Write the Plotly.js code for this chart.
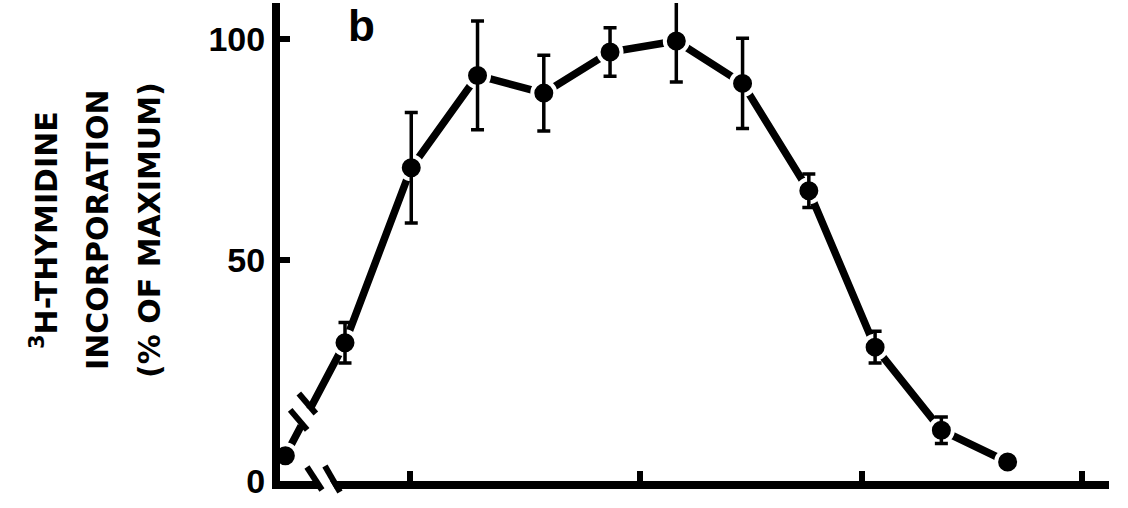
<!DOCTYPE html>
<html>
<head>
<meta charset="utf-8">
<script src="https://cdn.plot.ly/plotly-3.0.1.min.js"></script>
<style>html,body{margin:0;padding:0;background:#fff;}#chart{width:1128px;height:508px;}</style>
</head>
<body>
<div id="chart"></div>
<script>
// ---- data ----
const dose = [1.1, 2, 3, 4, 5, 6, 7, 8, 9, 10, 11, 12];
const incorporation = [5.7, 31.3, 70.9, 91.8, 87.8, 97.1, 99.6, 90.0, 65.7, 30.3, 11.5, 4.3];
const sem = [0, 4.6, 12.5, 12.3, 8.6, 5.5, 9.3, 10.2, 3.8, 3.6, 3.0, 0];
const xTickVals = [2.98, 6.45, 9.8, 13.12];
const yTickVals = [0, 50, 100];
const yTickText = ['0', '50', '100'];
const titleLines = ['<sup>3</sup>H-THYMIDINE', 'INCORPORATION', '(% OF MAXIMUM)'];
const panelLabel = 'b';

// ---- break marks ----
function lerp(a, b, t) { return a + (b - a) * t; }
const breakT = [0.265, 0.41];
const bp = breakT.map(t => ({x: lerp(dose[0], dose[1], t), y: lerp(incorporation[0], incorporation[1], t)}));
const shapes = [];
// white gap on the data line
shapes.push({type: 'line', xref: 'x', yref: 'y', x0: bp[0].x, y0: bp[0].y, x1: bp[1].x, y1: bp[1].y,
  line: {color: 'white', width: 12}, layer: 'above'});
bp.forEach(p => {
  shapes.push({type: 'line', xref: 'x', yref: 'y', xsizemode: 'pixel', ysizemode: 'pixel',
    xanchor: p.x, yanchor: p.y, x0: -11, y0: 16, x1: 6, y1: -4,
    line: {color: 'black', width: 6}, layer: 'above'});
});
// x-axis break
const axisBreakX = 1.72;
shapes.push({type: 'line', xref: 'x', yref: 'paper', xsizemode: 'pixel', ysizemode: 'pixel',
  xanchor: axisBreakX, yanchor: 0, x0: -10.5, y0: 14, x1: 4.5, y1: -11,
  line: {color: 'white', width: 10}, layer: 'above'});
shapes.push({type: 'line', xref: 'x', yref: 'paper', xsizemode: 'pixel', ysizemode: 'pixel',
  xanchor: axisBreakX, yanchor: 0, x0: -19.5, y0: 14, x1: -4.5, y1: -9,
  line: {color: 'black', width: 6}, layer: 'above'});
shapes.push({type: 'line', xref: 'x', yref: 'paper', xsizemode: 'pixel', ysizemode: 'pixel',
  xanchor: axisBreakX, yanchor: 0, x0: -1.5, y0: 15, x1: 13.5, y1: -11,
  line: {color: 'black', width: 6}, layer: 'above'});

const traces = [
  {x: dose, y: incorporation, type: 'scatter', mode: 'lines+markers', cliponaxis: false,
   line: {color: 'black', width: 7.5},
   marker: {color: 'black', size: 23, line: {color: 'white', width: 4}},
   hoverinfo: 'skip', showlegend: false},
  {x: dose, y: incorporation, type: 'scatter', mode: 'markers', cliponaxis: false,
   marker: {color: 'rgba(0,0,0,0)', size: 1},
   error_y: {type: 'data', array: sem, visible: true, color: 'black', thickness: 3.5, width: 6.5},
   hoverinfo: 'skip', showlegend: false}
];

const titleFont = {family: 'DejaVu Sans', size: 30, color: 'black', weight: 'bold'};
const titleShifts = [-236, -183, -131];
const annotations = titleLines.map((t, i) => ({
  text: t, xref: 'paper', yref: 'paper', x: 0, y: 0.5, xshift: titleShifts[i], yshift: 12,
  xanchor: 'center', yanchor: 'middle', textangle: -90, showarrow: false, font: titleFont
}));
annotations.push({text: panelLabel, xref: 'paper', yref: 'paper', x: 0, y: 1, xshift: 81, yshift: -22,
  xanchor: 'center', yanchor: 'middle', showarrow: false,
  font: {family: 'Liberation Sans', size: 44, color: 'black', weight: 'bold'}});

const layout = {
  width: 1128, height: 508,
  margin: {l: 280, r: 19, t: 3, b: 27},
  paper_bgcolor: 'white', plot_bgcolor: 'white',
  showlegend: false,
  xaxis: {range: [1.019, 13.53], showline: true, linecolor: 'black', linewidth: 8,
    ticks: 'inside', tickvals: xTickVals, ticklen: 10, tickwidth: 6, tickcolor: 'black',
    showticklabels: false, showgrid: false, zeroline: false},
  yaxis: {range: [0, 108.2], showline: true, linecolor: 'black', linewidth: 8,
    ticks: 'inside', tickvals: yTickVals, ticktext: yTickText, ticklen: 10, tickwidth: 6, tickcolor: 'black',
    tickfont: {family: 'Liberation Sans', size: 34, color: 'black', weight: 'bold'},
    showgrid: false, zeroline: false},
  shapes: shapes,
  annotations: annotations
};

Plotly.newPlot('chart', traces, layout, {staticPlot: true, displayModeBar: false});
</script>
</body>
</html>
